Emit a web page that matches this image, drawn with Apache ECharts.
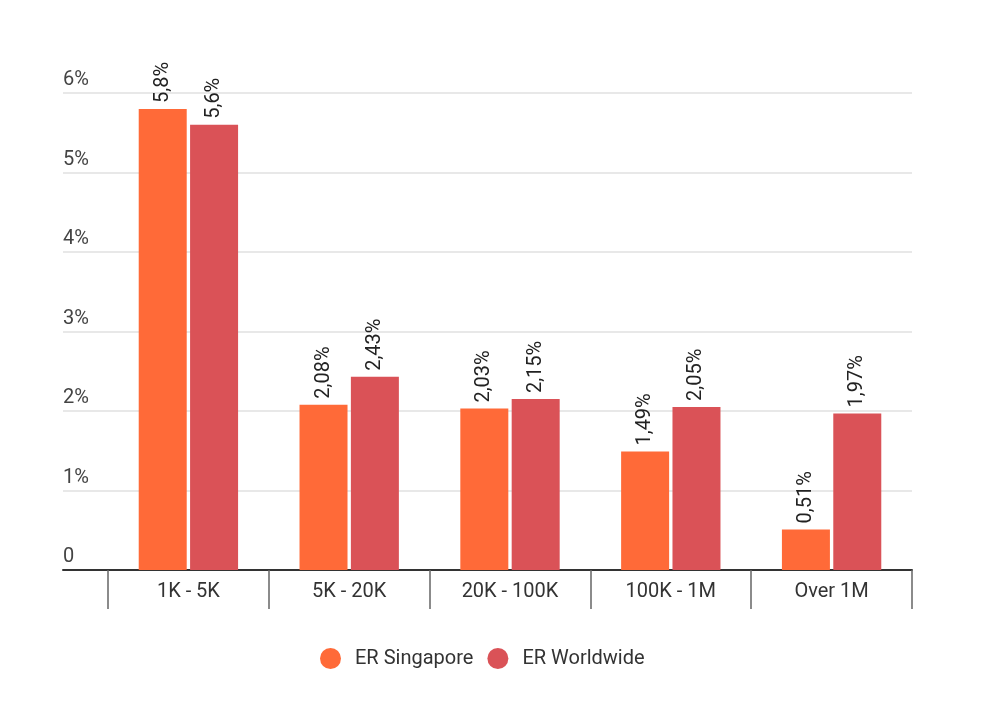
<!DOCTYPE html>
<html><head><meta charset="utf-8">
<script src="https://cdn.jsdelivr.net/npm/echarts@6/dist/echarts.min.js"></script>
<style>html,body{margin:0;padding:0;background:#fff}#c{width:1000px;height:716px}</style>
</head><body><div id="c"></div>
<script>
const categories = ['1K - 5K', '5K - 20K', '20K - 100K', '100K - 1M', 'Over 1M'];
const erSingapore = [5.8, 2.08, 2.03, 1.49, 0.51];
const erWorldwide = [5.6, 2.43, 2.15, 2.05, 1.97];
const yTicks = [0, 1, 2, 3, 4, 5, 6];
const seriesNames = ['ER Singapore', 'ER Worldwide'];

const font = 'Roboto, "Noto Sans", sans-serif';
const chart = echarts.init(document.getElementById('c'));
const lbl = {
  show: true, position: 'top', rotate: 90, align: 'left', verticalAlign: 'middle',
  distance: 6, fontSize: 20, color: '#222', fontFamily: font,
  formatter: p => String(p.value).replace('.', ',') + '%'
};
chart.setOption({
  animation: false,
  textStyle: { fontFamily: font },
  grid: [
    { left: 63, right: 88, top: 93, bottom: 146 },
    { left: 108, right: 88, top: 93, bottom: 146 }
  ],
  xAxis: [
    { gridIndex: 0, type: 'value', min: 0, max: 1, axisLabel: { show: false }, axisTick: { show: false },
      splitLine: { show: false }, axisLine: { show: true, lineStyle: { color: '#333', width: 2 } } },
    { gridIndex: 1, type: 'category', data: categories,
      axisLine: { show: false },
      axisTick: { show: true, length: 39, lineStyle: { color: '#666', width: 1.5 } },
      axisLabel: { margin: 12, fontSize: 20, color: '#333', fontFamily: font } }
  ],
  yAxis: [
    { gridIndex: 0, type: 'value', min: yTicks[0], max: yTicks[yTicks.length - 1], interval: 1,
      axisLine: { show: false }, axisTick: { show: false },
      splitLine: { lineStyle: { color: '#e0e0e0', width: 1.5 } },
      axisLabel: { inside: true, margin: 0, verticalAlign: 'bottom', padding: [0, 0, 3, 0],
        fontSize: 20, color: '#444', fontFamily: font,
        formatter: v => v === 0 ? '0' : v + '%' } },
    { gridIndex: 1, type: 'value', min: yTicks[0], max: yTicks[yTicks.length - 1], interval: 1, show: false }
  ],
  legend: {
    top: 643, left: 315, icon: 'circle', itemWidth: 21, itemHeight: 21, itemGap: 14,
    textStyle: { fontSize: 20, color: '#333', fontFamily: font, padding: [0, 0, 0, 9] },
    data: seriesNames
  },
  series: [
    { name: seriesNames[0], type: 'bar', xAxisIndex: 1, yAxisIndex: 1, data: erSingapore,
      barWidth: 48, barGap: '7%', itemStyle: { color: '#FF6A38' }, label: lbl },
    { name: seriesNames[1], type: 'bar', xAxisIndex: 1, yAxisIndex: 1, data: erWorldwide,
      barWidth: 48, barGap: '7%', itemStyle: { color: '#DA5257' }, label: lbl }
  ]
});
</script></body></html>
